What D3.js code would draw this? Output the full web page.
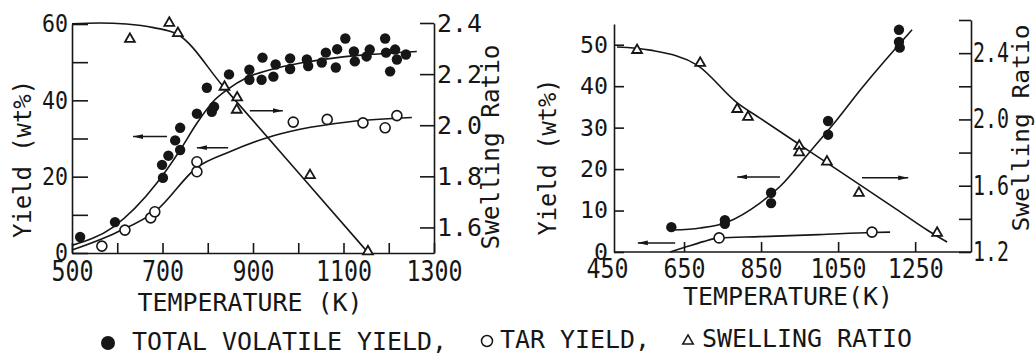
<!DOCTYPE html>
<html>
<head>
<meta charset="utf-8">
<script src="https://cdn.jsdelivr.net/npm/d3@7"></script>
<style>
  html, body { margin: 0; padding: 0; background: #fff; }
  svg { display: block; }
  text { font-family: "DejaVu Sans Mono", "Liberation Mono", monospace; fill: #161616; }
</style>
</head>
<body>
<svg id="chart" width="1035" height="356"></svg>
<script>
// ---- Panel A (500–1300 K): measured points [T (K), value] ----
const aTotalPts = [[518,4.2],[595,8.1],[701,19.7],[699,23.1],[713,25.5],[728,29.5],[739,27.0],[739,32.8],
  [776,36.5],[798,43.3],[809,37.0],[814,38.3],[847,46.8],[892,48.0],[892,45.4],[919,45.4],[921,51.2],
  [945,46.2],[950,49.4],[982,51.0],[982,48.2],[1019,50.7],[1022,49.0],[1052,49.9],[1061,52.5],[1083,48.6],
  [1086,53.4],[1104,56.2],[1123,52.8],[1125,50.2],[1151,51.5],[1158,53.3],[1192,56.2],[1194,52.5],
  [1203,47.6],[1214,53.3],[1218,50.7],[1238,52.0]];
const aTarPts = [[566,1.8],[617,6.0],[674,9.2],[683,10.8],[776,21.3],[776,23.9],[989,34.3],[1064,35.0],
  [1143,34.1],[1192,32.8],[1218,36.0]];
const aSwellPts = [[628,2.337],[715,2.40],[734,2.36],[837,2.15],[865,2.108],[864,2.06],[1026,1.804],[1154,1.506]];
// fitted curves
const aTotalCurve = [[500,2.0],[591,6.8],[688,18.4],[739,27.0],[776,34.0],[812,39.7],[843,42.8],[887,46.0],
  [938,48.0],[1011,49.9],[1086,51.2],[1158,52.0],[1262,52.8]];
const aTarCurve = [[500,0.8],[595,5.2],[688,11.3],[776,22.4],[850,26.6],[931,30.2],[1004,32.4],[1114,34.4],[1251,35.5]];
const aSwellCurve = [[500,2.397],[560,2.40],[620,2.396],[680,2.382],[734,2.355],[834,2.152],[1000,1.815],[1154,1.502]];
// arrows: [tail T, head T, yield level]
const aArrows = [[710,635,30.5],[845,776,27.6],[893,966,37.3]];
const aTempTicks = [500,600,700,800,900,1000,1100,1200,1300];
const aYieldTicks = [0,10,20,30,40,50,60];
const aSwellTicks = [1.6,1.8,2.0,2.2,2.4];

// ---- Panel B (450–1400 K) ----
const bTotalPts = [[617,6.0],[756,7.7],[756,6.8],[876,14.3],[876,11.8],[1024,31.6],[1024,28.3],
  [1208,53.6],[1208,50.7],[1210,49.3]];
const bTarPts = [[741,3.4],[1138,4.8]];
const bSwellPts = [[528,2.418],[692,2.34],[788,2.062],[816,2.014],[949,1.84],[949,1.80],[1021,1.745],
  [1104,1.556],[1307,1.315]];
const bTotalCurve = [[621,5.3],[692,5.8],[762,7.2],[847,11.8],[899,15.8],[977,24.2],[1047,31.9],[1107,39.0],[1242,53.6]];
const bTarCurve = [[614,0],[658,1.3],[700,2.5],[741,3.4],[847,3.7],[1000,4.2],[1138,4.7],[1185,4.8]];
const bSwellCurve = [[476,2.437],[562,2.418],[684,2.328],[788,2.10],[847,2.008],[977,1.806],[1193,1.471],
  [1281,1.333],[1333,1.26]];
const bArrows = [[627,530,2.2],[899,788,18.1],[1112,1232,17.9]];
const bTempTicks = [450,650,850,1050,1250];
const bYieldTicks = [0,10,20,30,40,50];
const bSwellTicks = [1.2,1.4,1.6,1.8,2.0,2.2,2.4,2.6];
const bSwellLabels = [1.2,1.6,2.0,2.4];

const legendItems = ["TOTAL VOLATILE YIELD,", "TAR YIELD,", "SWELLING RATIO"];

const INK = "#161616";
const svg = d3.select("#chart");

// squeeze monospace text to a fixed advance per character
function squeeze(sel, perChar) {
  sel.each(function () {
    const t = d3.select(this);
    const s = t.text();
    if (s.length) t.attr("textLength", s.length * perChar).attr("lengthAdjust", "spacingAndGlyphs");
  });
}

const defs = svg.append("defs");
defs.append("marker").attr("id", "head")
  .attr("viewBox", "0 0 10 6").attr("refX", 10).attr("refY", 3)
  .attr("markerWidth", 10).attr("markerHeight", 6).attr("markerUnits", "userSpaceOnUse")
  .attr("orient", "auto")
  .append("path").attr("d", "M0,0.6L10,3L0,5.4Z").attr("fill", INK);

function styleAxis(g, fontSize, perChar) {
  g.selectAll("path, line").attr("stroke", INK).attr("stroke-width", 1.6);
  g.selectAll("text").attr("font-size", fontSize).attr("fill", INK)
    .attr("font-family", "DejaVu Sans Mono, Liberation Mono, monospace");
  squeeze(g.selectAll("text"), perChar);
}

function drawSeries(g, x, yL, yR, d) {
  const lineL = d3.line().x(p => x(p[0])).y(p => yL(p[1])).curve(d3.curveMonotoneX);
  const lineR = d3.line().x(p => x(p[0])).y(p => yR(p[1])).curve(d3.curveMonotoneX);
  const curves = [[d.totalCurve, lineL], [d.tarCurve, lineL], [d.swellCurve, lineR]];
  curves.forEach(([c, ln]) => g.append("path").attr("d", ln(c))
    .attr("fill", "none").attr("stroke", INK).attr("stroke-width", 1.6));

  g.selectAll(null).data(d.arrows).join("line")
    .attr("x1", a => x(a[0])).attr("x2", a => x(a[1]))
    .attr("y1", a => yL(a[2])).attr("y2", a => yL(a[2]))
    .attr("stroke", INK).attr("stroke-width", 1.5).attr("marker-end", "url(#head)");

  g.selectAll(null).data(d.swellPts).join("path")
    .attr("transform", p => `translate(${x(p[0])},${yR(p[1])})`)
    .attr("d", d3.symbol(d3.symbolTriangle, 42)())
    .attr("fill", "#fff").attr("stroke", INK).attr("stroke-width", 1.8);
  g.selectAll(null).data(d.tarPts).join("circle")
    .attr("cx", p => x(p[0])).attr("cy", p => yL(p[1])).attr("r", 5)
    .attr("fill", "#fff").attr("stroke", INK).attr("stroke-width", 1.6);
  g.selectAll(null).data(d.totalPts).join("circle")
    .attr("cx", p => x(p[0])).attr("cy", p => yL(p[1])).attr("r", 5.2)
    .attr("fill", INK);
}

function rotatedTitle(cx, cy, str, size, len) {
  svg.append("text").attr("transform", `translate(${cx},${cy}) rotate(-90)`)
    .attr("text-anchor", "middle").attr("dominant-baseline", "central")
    .attr("font-size", size).attr("textLength", len).attr("lengthAdjust", "spacingAndGlyphs")
    .text(str);
}

// ================= Panel A =================
{
  const x = d3.scaleLinear().domain([500, 1300]).range([72, 434]);
  const y = d3.scaleLinear().domain([0, 60]).range([253, 24]);
  const s = d3.scaleLinear().domain([1.5, 2.4]).range([253, 23]);
  const g = svg.append("g");

  g.append("g").attr("transform", `translate(0,${y.range()[0]})`)
    .call(d3.axisBottom(x).tickValues(aTempTicks).tickSizeInner(-10).tickSizeOuter(0).tickPadding(8)
      .tickFormat(d => (d - 500) % 200 === 0 ? String(d) : ""))
    .call(a => styleAxis(a, 28, 14));
  g.append("g").attr("transform", `translate(${x.range()[0]},0)`)
    .call(d3.axisLeft(y).tickValues(aYieldTicks).tickSizeInner(-16).tickSizeOuter(0).tickPadding(4)
      .tickFormat(d => d % 20 === 0 ? String(d) : ""))
    .call(a => styleAxis(a, 24, 13));
  g.append("g").attr("transform", `translate(${x.range()[1]},0)`)
    .call(d3.axisRight(s).tickValues(aSwellTicks).tickSizeInner(-14).tickSizeOuter(0).tickPadding(3)
      .tickFormat(d3.format(".1f")))
    .call(a => styleAxis(a, 25, 15));

  drawSeries(g, x, y, s, {
    totalPts: aTotalPts, tarPts: aTarPts, swellPts: aSwellPts,
    totalCurve: aTotalCurve, tarCurve: aTarCurve, swellCurve: aSwellCurve, arrows: aArrows
  });

  rotatedTitle(23, 159, "Yield (wt%)", 24, 158);
  rotatedTitle(491, 147, "Swelling Ratio", 24, 205);
  svg.append("text").attr("x", 250).attr("y", 311).attr("text-anchor", "middle")
    .attr("font-size", 24).attr("textLength", 225).attr("lengthAdjust", "spacingAndGlyphs")
    .text("TEMPERATURE (K)");
}

// ================= Panel B =================
{
  const x = d3.scaleLinear().domain([450, 1395]).range([607, 971]);
  const y = d3.scaleLinear().domain([0, 55]).range([252, 24]);
  const s = d3.scaleLinear().domain([1.2, 2.6]).range([252, 20]);
  const frameLeft = 614;
  const g = svg.append("g");

  g.append("g").attr("transform", `translate(0,${y.range()[0]})`)
    .call(d3.axisBottom(x).tickValues(bTempTicks).tickSizeInner(-10).tickSizeOuter(0).tickPadding(7)
      .tickFormat(d => String(d)))
    .call(a => {
      a.select(".domain").attr("d", `M${frameLeft},0H${x.range()[1]}`);
      a.selectAll(".tick").filter(d => x(d) < frameLeft).select("line").remove();
      styleAxis(a, 27, 14);
    });
  g.append("g").attr("transform", `translate(${frameLeft},0)`)
    .call(d3.axisLeft(y).tickValues(bYieldTicks).tickSizeInner(-10).tickSizeOuter(0).tickPadding(6)
      .tickFormat(d => String(d)))
    .call(a => styleAxis(a, 23, 14));
  g.append("g").attr("transform", `translate(${x.range()[1]},0)`)
    .call(d3.axisRight(s).tickValues(bSwellTicks).tickSizeInner(-12).tickSizeOuter(0).tickPadding(2)
      .tickFormat(d => bSwellLabels.some(v => Math.abs(v - d) < 1e-9) ? d3.format(".1f")(d) : ""))
    .call(a => styleAxis(a, 26, 12));

  drawSeries(g, x, y, s, {
    totalPts: bTotalPts, tarPts: bTarPts, swellPts: bSwellPts,
    totalCurve: bTotalCurve, tarCurve: bTarCurve, swellCurve: bSwellCurve, arrows: bArrows
  });

  rotatedTitle(548, 157, "Yield (wt%)", 24, 157);
  rotatedTitle(1021, 128, "Swelling Ratio", 23, 207);
  svg.append("text").attr("x", 788).attr("y", 305).attr("text-anchor", "middle")
    .attr("font-size", 24).attr("textLength", 210).attr("lengthAdjust", "spacingAndGlyphs")
    .text("TEMPERATURE(K)");
}

// ================= Legend =================
{
  const lg = svg.append("g");
  lg.append("circle").attr("cx", 108).attr("cy", 343).attr("r", 7).attr("fill", INK);
  lg.append("circle").attr("cx", 487).attr("cy", 341).attr("r", 5.5)
    .attr("fill", "#fff").attr("stroke", INK).attr("stroke-width", 1.5);
  lg.append("path").attr("transform", "translate(688,341)")
    .attr("d", d3.symbol(d3.symbolTriangle, 48)())
    .attr("fill", "#fff").attr("stroke", INK).attr("stroke-width", 1.5);
  const pos = [[132, 350], [500, 348], [702, 347]];
  lg.selectAll(null).data(legendItems).join("text")
    .attr("x", (t, i) => pos[i][0]).attr("y", (t, i) => pos[i][1])
    .attr("font-size", 25).text(t => t)
    .call(sel => squeeze(sel, 15));
}
</script>
</body>
</html>
